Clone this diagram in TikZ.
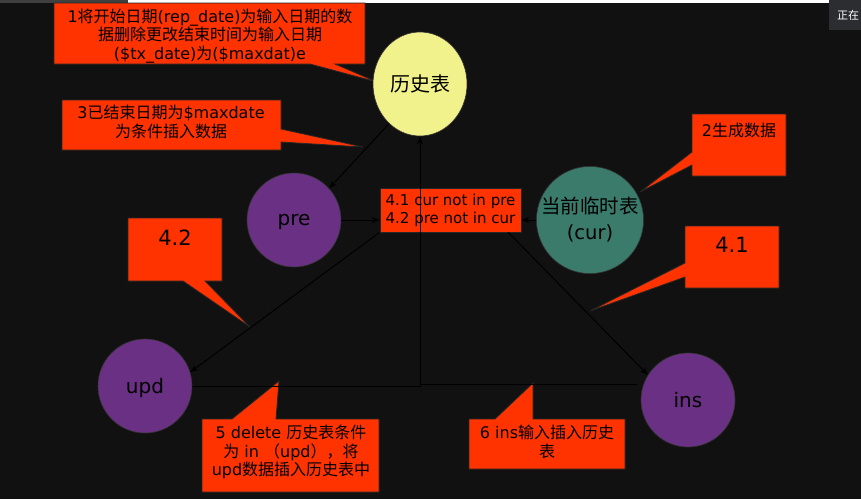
\documentclass[tikz,border=0pt]{standalone}
\usepackage{fontspec}
\setmainfont{DejaVu Sans}
\newfontfamily\cjk{Noto Sans CJK SC}
\usetikzlibrary{arrows.meta,calc,shapes.geometric}
\definecolor{bgc}{HTML}{111111}
\definecolor{callc}{HTML}{FF3300}
\definecolor{yellc}{HTML}{F2F28C}
\definecolor{purpc}{HTML}{6A3083}
\definecolor{tealc}{HTML}{3A7B6C}
\definecolor{tabc}{HTML}{2B2D31}
\tikzset{
  callout/.style={fill=callc, draw=black!85, line width=0.8pt, line join=miter},
  calltext/.style={align=center, text=black, font=\fontsize{16}{18.5}\selectfont, inner sep=0pt},
  bigtext/.style={align=center, text=black, font=\fontsize{21}{24}\selectfont, inner sep=0pt},
  circnode/.style={circle, draw=black!80, line width=0.6pt, minimum size=94pt, inner sep=0pt, text=black, font=\fontsize{20}{24}\selectfont, align=center},
  onelabel/.style={text depth=0pt},
  conn/.style={draw=black, line width=1pt, -{Stealth[length=8pt,width=6pt]}},
  plainconn/.style={draw=black, line width=1pt},
  notebox/.style={fill=callc, draw=black!85, line width=0.6pt, minimum width=141pt, minimum height=44pt, inner sep=1pt, align=left, text=black, font=\fontsize{15}{18}\selectfont}
}
\begin{document}
\begin{tikzpicture}[x=1pt,y=-1pt]
\useasboundingbox (0,0) rectangle (861,499);
\fill[bgc] (0,0) rectangle (861,499);
% top strip and tab
\fill[black!75] (0,0) rectangle (128,2.5);
\fill[white] (128,0) rectangle (830,2.5);
\fill[tabc] (829,0) rectangle (861,30);
\node[anchor=west, text=white, inner sep=0pt, font=\cjk\fontsize{11}{13}\selectfont] (tab) at (837,15) {正在};

% callout shapes
\path[callout] (54,3) -- (365,3) -- (365,64) -- (335,64) -- (377,82) -- (310,64) -- (54,64) -- cycle;
\path[callout] (62,100) -- (281,100) -- (281,129) -- (363,147) -- (281,142) -- (281,150) -- (62,150) -- cycle;
\path[callout] (692,114) -- (786,114) -- (786,176) -- (692,176) -- (692,165) -- (640,192) -- (692,152) -- cycle;
\path[callout] (685,226) -- (779,226) -- (779,288) -- (685,288) -- (685,277) -- (590,311) -- (685,263) -- cycle;
\path[callout] (128,218) -- (222,218) -- (222,281) -- (205,281) -- (250,327) -- (183,281) -- (128,281) -- cycle;
\path[callout] (202,419) -- (232,419) -- (279,381) -- (276,419) -- (379,419) -- (379,492) -- (202,492) -- cycle;
\path[callout] (469,419) -- (495,419) -- (533,383) -- (533,419) -- (625,419) -- (625,469) -- (469,469) -- cycle;

% callout texts
\node[calltext] (t1) at (210,36) {1{\cjk 将开始日期}(rep\_date){\cjk 为输入日期的数}\\{\cjk 据删除更改结束时间为输入日期}\\(\$tx\_date){\cjk 为}(\$maxdat)e};
\node[calltext] (t3) at (171,122) {3{\cjk 已结束日期为}\$maxdate\\{\cjk 为条件插入数据}};
\node[calltext] (t2) at (739,130) {2{\cjk 生成数据}};
\node[bigtext] (t41) at (732,245) {4.1};
\node[bigtext] (t42) at (175,238) {4.2};
\node[calltext] (t5) at (291,452) {5 delete {\cjk 历史表条件}\\{\cjk 为} in {\cjk （}upd{\cjk ），将}\\upd{\cjk 数据插入历史表中}};
\node[calltext] (t6) at (547,442) {6 ins{\cjk 输入插入历史}\\{\cjk 表}};

% circles
\node[circnode, ellipse, fill=yellc, minimum width=94pt, minimum height=104pt] (hist) at (420,84) {\cjk 历史表};
\node[circnode, onelabel, fill=purpc] (pre) at (294,220) {pre};
\node[circnode, fill=tealc, font=\fontsize{19.5}{26}\selectfont] (cur) at (590,220) {{\cjk 当前临时表}\\(cur)};
\node[circnode, onelabel, fill=purpc] (upd) at (145,386) {upd};
\node[circnode, onelabel, fill=purpc] (ins) at (688,400) {ins};

% note box
\node[notebox] (box) at (450.5,210) {4.1 cur not in pre\\4.2 pre not in cur};

% connectors
\coordinate (j) at (hist.south |- upd.east);
\draw[conn] (hist.232) -- (pre.42);
\draw[conn] (pre.east) -- (pre.east -| box.west);
\draw[conn] (cur.west) -- (cur.west -| box.east);
\draw[conn] (box.south west) -- (upd.17);
\draw[conn] ($(box.south east)+(-13,0)$) -- (ins.148);
\draw[conn] (upd.east) -| (hist.south);
\draw[plainconn] ($(ins.west)+(-4,-15)$) |- ($(j)+(0,-2)$);
\end{tikzpicture}
\end{document}
